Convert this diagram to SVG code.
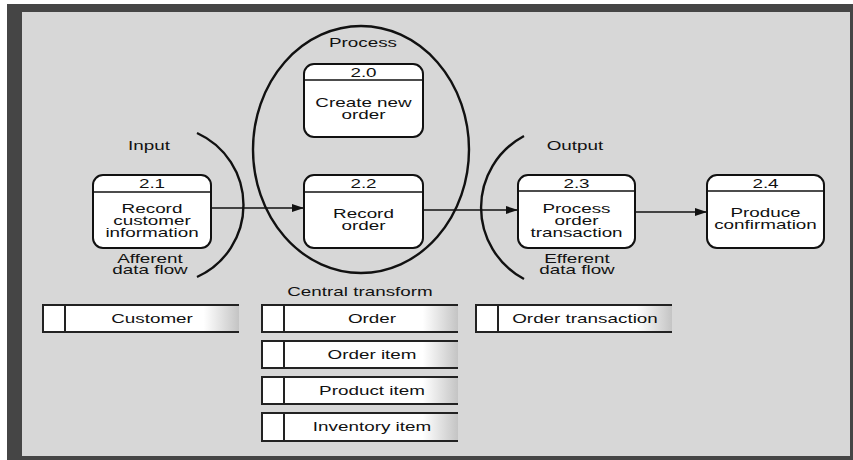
<svg xmlns="http://www.w3.org/2000/svg" width="853" height="460" viewBox="0 0 853 460">
  <defs>
    <style>
      text { font-family: "Liberation Sans", Arial, sans-serif; font-size: 13px; fill: #111; text-anchor: middle; }
      .box { fill: #fff; stroke: #111; stroke-width: 2; }
      .rule { stroke: #111; stroke-width: 1.5; }
      .flow { stroke: #111; stroke-width: 1.4; fill: none; }
      .bound { stroke: #111; stroke-width: 2.4; fill: none; }
      .store-fill { fill: url(#fade); }
      .store-edge { stroke: #222; stroke-width: 2; fill: none; }
    </style>
    <linearGradient id="fade" x1="0" y1="0" x2="1" y2="0">
      <stop offset="0" stop-color="#ffffff"/>
      <stop offset="0.82" stop-color="#ffffff"/>
      <stop offset="1" stop-color="#c4c4c4"/>
    </linearGradient>
    <marker id="arrow" viewBox="0 0 12 8" refX="12" refY="4" markerWidth="12" markerHeight="8" markerUnits="userSpaceOnUse" orient="auto">
      <path d="M0,0 L12,4 L0,8 z" fill="#111"/>
    </marker>
  </defs>

  <!-- frame and panel -->
  <rect x="0" y="0" width="853" height="460" fill="#ffffff"/>
  <rect x="7" y="4" width="846" height="456" fill="#454545"/>
  <rect x="22" y="12" width="828" height="444" fill="#d7d7d7"/>

  <!-- region boundaries and their labels -->
  <g id="boundaries">
    <ellipse cx="361" cy="149.5" rx="108" ry="123.5" class="bound" stroke-width="2"/>
    <path d="M197,133 A79,79 0 0 1 197,277" class="bound"/>
    <path d="M524,136 A81,81 0 0 0 524,279" class="bound"/>
    <text transform="translate(363,47) scale(1.45,1)">Process</text>
    <text transform="translate(149,150) scale(1.45,1)">Input</text>
    <text transform="translate(575,150) scale(1.45,1)">Output</text>
    <text transform="translate(150,263) scale(1.45,1)"><tspan x="0">Afferent</tspan><tspan x="0" dy="10.5">data flow</tspan></text>
    <text transform="translate(577,263) scale(1.45,1)"><tspan x="0">Efferent</tspan><tspan x="0" dy="10.5">data flow</tspan></text>
    <text transform="translate(360,296) scale(1.45,1)">Central transform</text>
  </g>

  <!-- data flows -->
  <g id="connectors">
    <line x1="211" y1="208" x2="304" y2="208" class="flow" marker-end="url(#arrow)"/>
    <line x1="423" y1="210" x2="518" y2="210" class="flow" marker-end="url(#arrow)"/>
    <line x1="635" y1="212" x2="707" y2="212" class="flow" marker-end="url(#arrow)"/>
  </g>

  <!-- processes -->
  <g id="p2_0">
    <rect x="304" y="64" width="119" height="73" rx="10" class="box"/>
    <line x1="304" y1="80" x2="423" y2="80" class="rule"/>
    <text transform="translate(363.5,77) scale(1.45,1)">2.0</text>
    <text transform="translate(363.5,107) scale(1.45,1)"><tspan x="0">Create new</tspan><tspan x="0" dy="11.5">order</tspan></text>
  </g>
  <g id="p2_1">
    <rect x="93" y="175" width="118" height="73" rx="10" class="box"/>
    <line x1="93" y1="192" x2="211" y2="192" class="rule"/>
    <text transform="translate(152,188) scale(1.45,1)">2.1</text>
    <text transform="translate(152,213) scale(1.45,1)"><tspan x="0">Record</tspan><tspan x="0" dy="12">customer</tspan><tspan x="0" dy="12">information</tspan></text>
  </g>
  <g id="p2_2">
    <rect x="304" y="175" width="119" height="73" rx="10" class="box"/>
    <line x1="304" y1="192" x2="423" y2="192" class="rule"/>
    <text transform="translate(363.5,188) scale(1.45,1)">2.2</text>
    <text transform="translate(363.5,218) scale(1.45,1)"><tspan x="0">Record</tspan><tspan x="0" dy="11.5">order</tspan></text>
  </g>
  <g id="p2_3">
    <rect x="518" y="175" width="117" height="73" rx="10" class="box"/>
    <line x1="518" y1="191" x2="635" y2="191" class="rule"/>
    <text transform="translate(576.5,188) scale(1.45,1)">2.3</text>
    <text transform="translate(576.5,213) scale(1.45,1)"><tspan x="0">Process</tspan><tspan x="0" dy="12">order</tspan><tspan x="0" dy="12">transaction</tspan></text>
  </g>
  <g id="p2_4">
    <rect x="707" y="175" width="117" height="73" rx="10" class="box"/>
    <line x1="707" y1="191" x2="824" y2="191" class="rule"/>
    <text transform="translate(765.5,188) scale(1.45,1)">2.4</text>
    <text transform="translate(765.5,217) scale(1.45,1)"><tspan x="0">Produce</tspan><tspan x="0" dy="12">confirmation</tspan></text>
  </g>

  <!-- data stores -->
  <g id="ds_customer">
    <rect x="43" y="305" width="196" height="27" class="store-fill"/>
    <path d="M239,305 H43 V332 H239 M65,305 V332" class="store-edge"/>
    <text transform="translate(152,322.5) scale(1.45,1)">Customer</text>
  </g>
  <g id="ds_order">
    <rect x="262" y="305" width="196" height="27" class="store-fill"/>
    <path d="M458,305 H262 V332 H458 M284,305 V332" class="store-edge"/>
    <text transform="translate(372,322.5) scale(1.45,1)">Order</text>
  </g>
  <g id="ds_order_item">
    <rect x="262" y="341" width="196" height="27" class="store-fill"/>
    <path d="M458,341 H262 V368 H458 M284,341 V368" class="store-edge"/>
    <text transform="translate(372,358.5) scale(1.45,1)">Order item</text>
  </g>
  <g id="ds_product_item">
    <rect x="262" y="377" width="196" height="27" class="store-fill"/>
    <path d="M458,377 H262 V404 H458 M284,377 V404" class="store-edge"/>
    <text transform="translate(372,394.5) scale(1.45,1)">Product item</text>
  </g>
  <g id="ds_inventory_item">
    <rect x="262" y="413" width="196" height="28" class="store-fill"/>
    <path d="M458,413 H262 V441 H458 M284,413 V441" class="store-edge"/>
    <text transform="translate(372,431) scale(1.45,1)">Inventory item</text>
  </g>
  <g id="ds_order_transaction">
    <rect x="476" y="305" width="196" height="27" class="store-fill"/>
    <path d="M672,305 H476 V332 H672 M498,305 V332" class="store-edge"/>
    <text transform="translate(585,322.5) scale(1.45,1)">Order transaction</text>
  </g>
</svg>
